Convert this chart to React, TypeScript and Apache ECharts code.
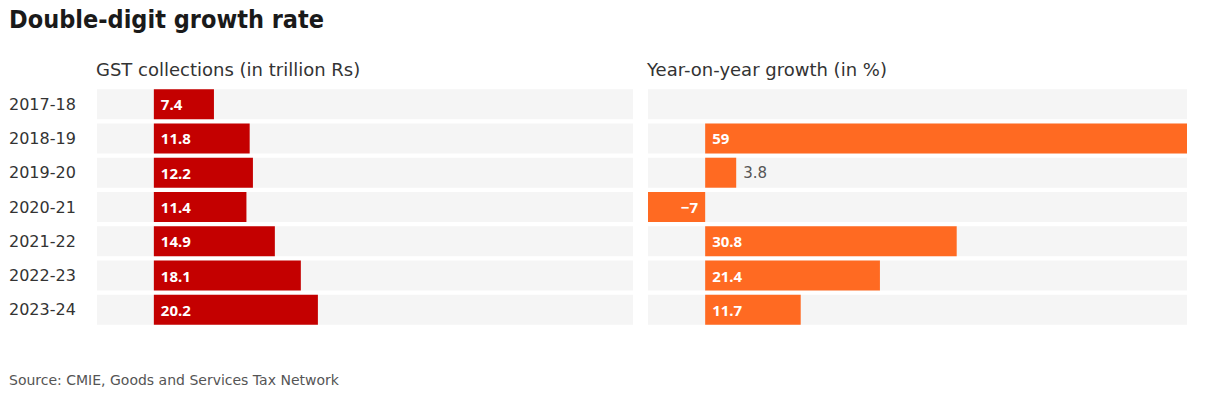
import React, { useEffect, useRef } from "react";
import * as echarts from "echarts";

const years = ["2017-18", "2018-19", "2019-20", "2020-21", "2021-22", "2022-23", "2023-24"];
const gstCollections = [7.4, 11.8, 12.2, 11.4, 14.9, 18.1, 20.2];
const yoyGrowth: (number | null)[] = [null, 59, 3.8, -7, 30.8, 21.4, 11.7];
const axisMin = -7;
const axisMax = 59;

const FONT = "'DejaVu Sans', sans-serif";
const LABEL_FONT = "'Noto Sans', sans-serif";

export default function App() {
  const ref = useRef<HTMLDivElement>(null);
  useEffect(() => {
    document.body.style.margin = "0";
    const chart = echarts.init(ref.current!, null, { renderer: "svg" });
    const white = { color: "#fff", fontWeight: "bold" as const, fontSize: 15, fontFamily: LABEL_FONT };
    const gstData = gstCollections.map((v) => ({
      value: v,
      label: { show: true, position: "insideLeft" as const, distance: 7, ...white },
    }));
    const yoyData = yoyGrowth.map((v) => {
      if (v === null) return { value: null as any };
      if (v < 0)
        return { value: v, label: { show: true, position: "insideRight" as const, distance: 7, ...white } };
      if (v < 6)
        return {
          value: v,
          label: { show: true, position: "right" as const, distance: 7, color: "#555", fontSize: 15, fontFamily: FONT },
        };
      return { value: v, label: { show: true, position: "insideLeft" as const, distance: 7, ...white } };
    });
    const fmt = (p: any) => (p.value < 0 ? "\u2212" + Math.abs(p.value) : String(p.value));
    chart.setOption({
      animation: false,
      textStyle: { fontFamily: FONT },
      title: [
        {
          text: "Double-digit growth rate",
          left: 9,
          top: 7,
          padding: 0,
          textStyle: {
            fontFamily: "'Liberation Sans Narrow', 'DejaVu Sans Condensed', sans-serif",
            fontWeight: "bold",
            fontSize: 25,
            color: "#1a1a1a",
          },
        },
        {
          text: "GST collections (in trillion Rs)",
          left: 96,
          top: 60,
          padding: 0,
          textStyle: { fontFamily: FONT, fontWeight: "normal", fontSize: 18, color: "#333" },
        },
        {
          text: "Year-on-year growth (in %)",
          left: 647,
          top: 60,
          padding: 0,
          textStyle: { fontFamily: FONT, fontWeight: "normal", fontSize: 18, color: "#333" },
        },
        {
          text: "Source: CMIE, Goods and Services Tax Network",
          left: 9,
          top: 373,
          padding: 0,
          textStyle: { fontFamily: FONT, fontWeight: "normal", fontSize: 14, color: "#555" },
        },
      ],
      grid: [
        { left: 97, width: 536, top: 87, height: 240 },
        { left: 648, width: 539, top: 87, height: 240 },
      ],
      xAxis: [
        { gridIndex: 0, type: "value", min: axisMin, max: axisMax, show: false },
        { gridIndex: 1, type: "value", min: axisMin, max: axisMax, show: false },
      ],
      yAxis: [
        {
          gridIndex: 0,
          type: "category",
          data: years,
          inverse: true,
          axisLine: { show: false },
          axisTick: { show: false },
          axisLabel: { align: "left", margin: 88, fontSize: 16, color: "#333", fontFamily: FONT },
        },
        {
          gridIndex: 1,
          type: "category",
          data: years,
          inverse: true,
          axisLine: { show: false },
          axisTick: { show: false },
          axisLabel: { show: false },
        },
      ],
      series: [
        {
          type: "bar",
          xAxisIndex: 0,
          yAxisIndex: 0,
          data: gstData,
          barWidth: 30,
          itemStyle: { color: "#c40000" },
          showBackground: true,
          backgroundStyle: { color: "#f5f5f5" },
          label: { formatter: fmt },
        },
        {
          type: "bar",
          xAxisIndex: 1,
          yAxisIndex: 1,
          data: yoyData,
          barWidth: 30,
          itemStyle: { color: "#ff6a22" },
          showBackground: true,
          backgroundStyle: { color: "#f5f5f5" },
          label: { formatter: fmt },
        },
      ],
    });
    return () => chart.dispose();
  }, []);
  return <div ref={ref} style={{ width: 1221, height: 404 }} />;
}
